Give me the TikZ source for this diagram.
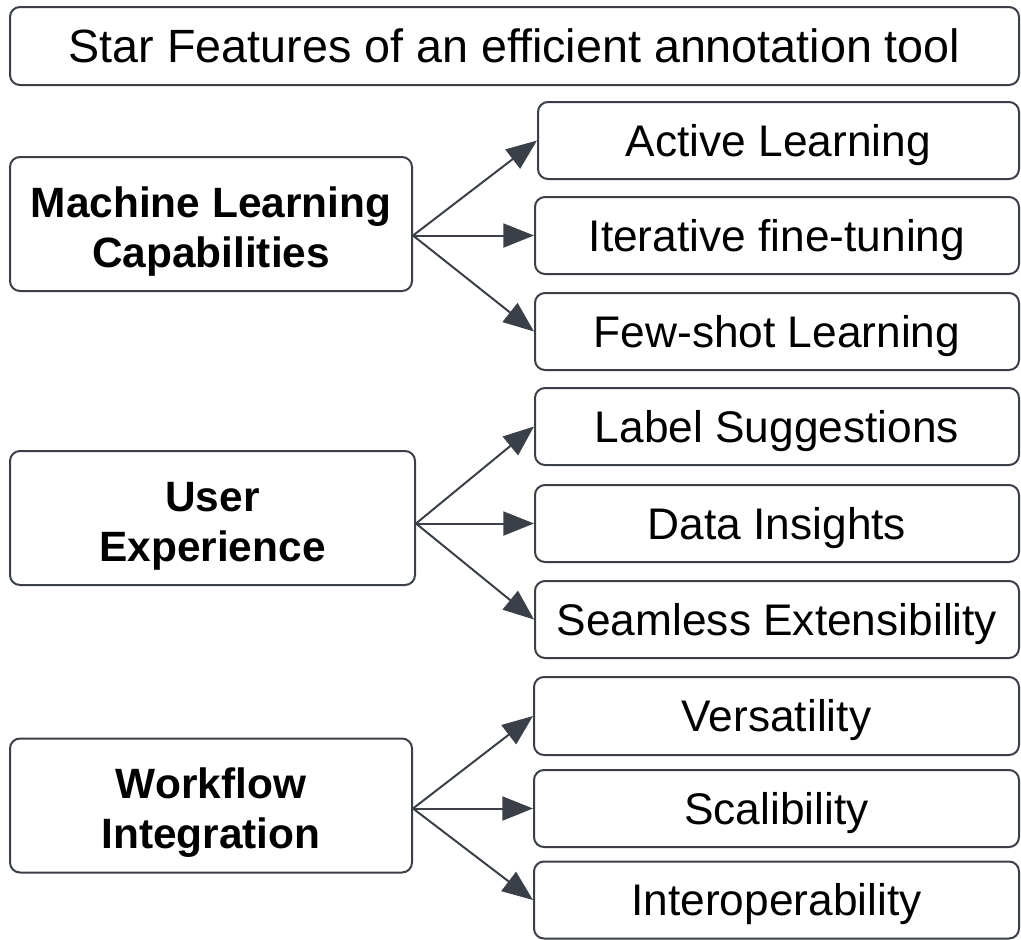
\documentclass[tikz,border=0pt]{standalone}
\usepackage{fontspec}
\setmainfont{Liberation Sans}
\usetikzlibrary{arrows.meta,calc}
\definecolor{edgegray}{HTML}{3B4048}
\begin{document}
\begin{tikzpicture}[x=0.75pt,y=-0.75pt,
  box/.style={draw=edgegray, line width=1.5pt, rounded corners=7.5pt, inner sep=0pt,
    align=center, text=black, text depth=0pt},
  headbox/.style={box, font=\fontsize{35}{40}\selectfont, text height=25pt},
  % two-line labels: height spans from the cap line of the first row to the last baseline
  groupbox/.style={box, font=\bfseries\fontsize{31.8}{37.5}\selectfont,
    text height=64.5pt, minimum height=100.5pt},
  itembox/.style={box, font=\fontsize{33.2}{40}\selectfont, text height=23.8pt,
    minimum height=57.75pt},
  link/.style={draw=edgegray, line width=1.5pt, -{Triangle[length=23pt,width=18pt]}}]
\useasboundingbox (0,0) rectangle (1021,939);

% title
\node[headbox, minimum width=756.75pt, minimum height=58.5pt] (title) at (514.5,46)
  {Star Features of an efficient annotation tool};

% groups
\node[groupbox, minimum width=301.5pt]  (ml) at (211,224)   {Machine Learning\\Capabilities};
\node[groupbox, minimum width=303.75pt] (ux) at (212.5,518) {User\\Experience};
\node[groupbox, minimum width=301.5pt]  (wf) at (211,805.5) {Workflow\\Integration};

% features
\node[itembox, minimum width=360.75pt] (al) at (778.5,140.5) {Active Learning};
\node[itembox, minimum width=363pt]    (it) at (777,235.5)   {Iterative fine-tuning};
\node[itembox, minimum width=363pt]    (fs) at (777,331.5)   {Few-shot Learning};
\node[itembox, minimum width=363pt]    (ls) at (777,426.5)   {Label Suggestions};
\node[itembox, minimum width=363pt]    (di) at (777,523.5)   {Data Insights};
\node[itembox, minimum width=363pt]    (se) at (777,619.5)   {Seamless Extensibility};
\node[itembox, minimum width=363.75pt, minimum height=58.5pt] (ve) at (776.5,716) {Versatility};
\node[itembox, minimum width=363.75pt] (sc) at (776.5,808.5) {Scalibility};
\node[itembox, minimum width=363.75pt] (io) at (776.5,900)   {Interoperability};

% connectors fan out from the level of the middle feature
\coordinate (mlo) at (ml.east |- it.west);
\coordinate (uxo) at (ux.east |- di.west);
\coordinate (wfo) at (wf.east |- sc.west);
\foreach \t in {al,it,fs} \draw[link] (mlo) -- (\t.west);
\foreach \t in {ls,di,se} \draw[link] (uxo) -- (\t.west);
\foreach \t in {ve,sc,io} \draw[link] (wfo) -- (\t.west);
\end{tikzpicture}
\end{document}
